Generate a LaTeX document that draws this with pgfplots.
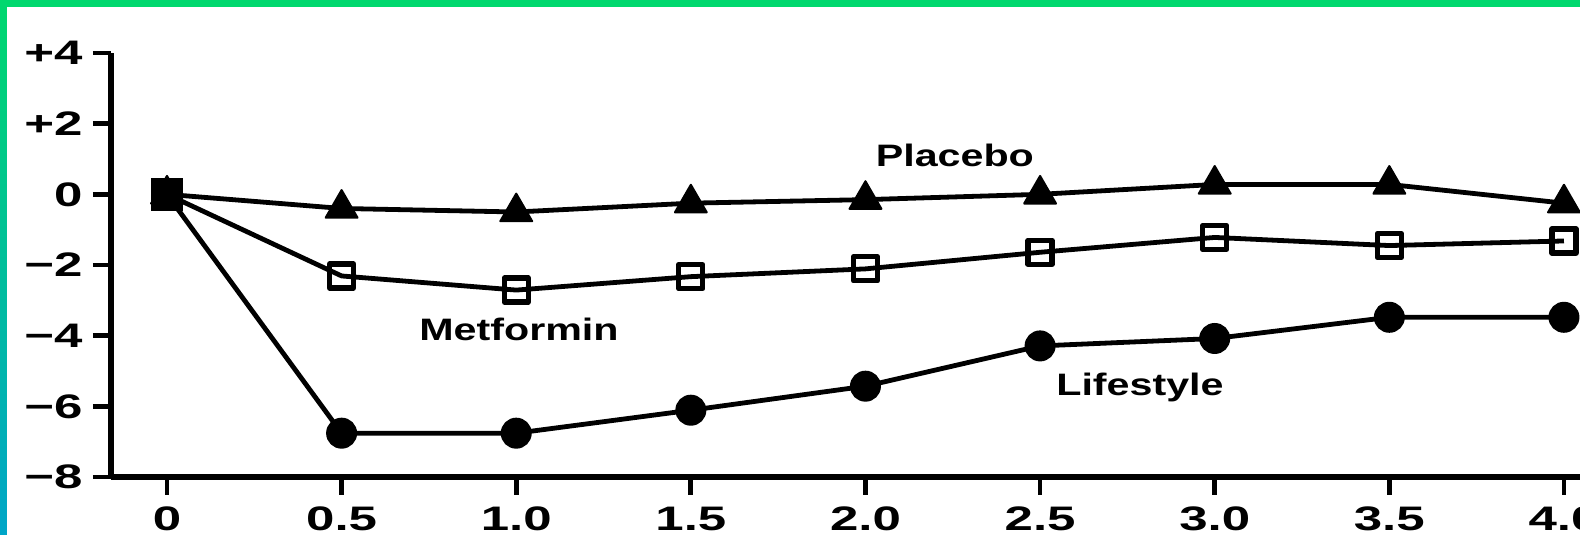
\documentclass[border=0pt]{standalone}
\usepackage{fontspec}
\setmainfont{Liberation Sans}
\usepackage{graphicx}
\usepackage{pgfplots}
\pgfplotsset{compat=1.18}
\newcommand{\tl}[1]{\scalebox{1.5}[1]{#1}}
\newcommand{\xl}[1]{\scalebox{1.5}[1]{\rule{0pt}{12.4pt}#1}}
\newcommand{\lbl}[1]{\scalebox{1.33}[1]{#1}}
\definecolor{bgreen}{RGB}{0,216,110}
\definecolor{bblue}{RGB}{0,165,200}

\begin{document}
\begin{tikzpicture}[x=1pt,y=1pt]
\path[use as bounding box] (0,0) rectangle (790,267.5);
\clip (0,0) rectangle (790,267.5);
\begin{axis}[
  at={(55.5pt,29pt)}, anchor=south west,
  scale only axis, width=761.4pt, height=212pt,
  xmin=-0.1603, xmax=4.2, ymin=-8, ymax=4,
  axis x line*=bottom, axis y line*=left,
  axis line style={line width=2.7pt, black},
  xtick={0,0.5,1,1.5,2,2.5,3,3.5,4},
  xticklabels={\xl{0},\xl{0.5},\xl{1.0},\xl{1.5},\xl{2.0},\xl{2.5},\xl{3.0},\xl{3.5},\xl{4.0}},
  ytick={-8,-6,-4,-2,0,2,4},
  yticklabels={\tl{−8},\tl{−6},\tl{−4},\tl{−2},\tl{0},\tl{+2},\tl{+4}},
  tick align=outside,
  major tick length=9pt,
  tick style={line width=2.4pt, black},
  ticklabel style={font=\fontsize{17}{18}\selectfont\bfseries, inner sep=0pt},
  xticklabel style={yshift=-5pt},
  yticklabel style={xshift=-5pt},
  clip=false,
]
\addplot[line width=2.4pt, black, line join=round, mark=square, mark size=6pt,
  mark options={line width=2.6pt, fill=white, solid}] coordinates {
  (0,0) (0.5,-2.31) (1,-2.71) (1.5,-2.33) (2,-2.11) (2.5,-1.64) (3,-1.22) (3.5,-1.45) (4,-1.32)};
\addplot[line width=2.4pt, black, line join=round, mark=triangle*, mark size=9.2pt,
  mark options={line width=1pt, fill=black, solid}] coordinates {
  (0,0) (0.5,-0.4) (1,-0.5) (1.5,-0.25) (2,-0.15) (2.5,0.0) (3,0.28) (3.5,0.28) (4,-0.25)};
\addplot[line width=2.4pt, black, line join=round, mark=*, mark size=7pt,
  mark options={line width=1.5pt, fill=black, solid}] coordinates {
  (0,0) (0.5,-6.76) (1,-6.76) (1.5,-6.11) (2,-5.43) (2.5,-4.29) (3,-4.08) (3.5,-3.48) (4,-3.48)};
\addplot[only marks, mark=square*, mark size=7.8pt, mark options={fill=black, draw=black}] coordinates {(0,0)};
\node[anchor=base, font=\fontsize{15.5}{18}\selectfont\bfseries, inner sep=0pt] at (axis cs:2.256,0.8) {\lbl{Placebo}};
\node[anchor=base, font=\fontsize{15.5}{18}\selectfont\bfseries, inner sep=0pt] at (axis cs:1.008,-4.15) {\lbl{Metformin}};
\node[anchor=base, font=\fontsize{15.5}{18}\selectfont\bfseries, inner sep=0pt] at (axis cs:2.786,-5.68) {\lbl{Lifestyle}};
\end{axis}
\fill[bgreen] (0,264.1) rectangle (790,267.5);
\shade[top color=bgreen, bottom color=bblue] (0,0) rectangle (3.4,267.5);
\end{tikzpicture}
\end{document}
